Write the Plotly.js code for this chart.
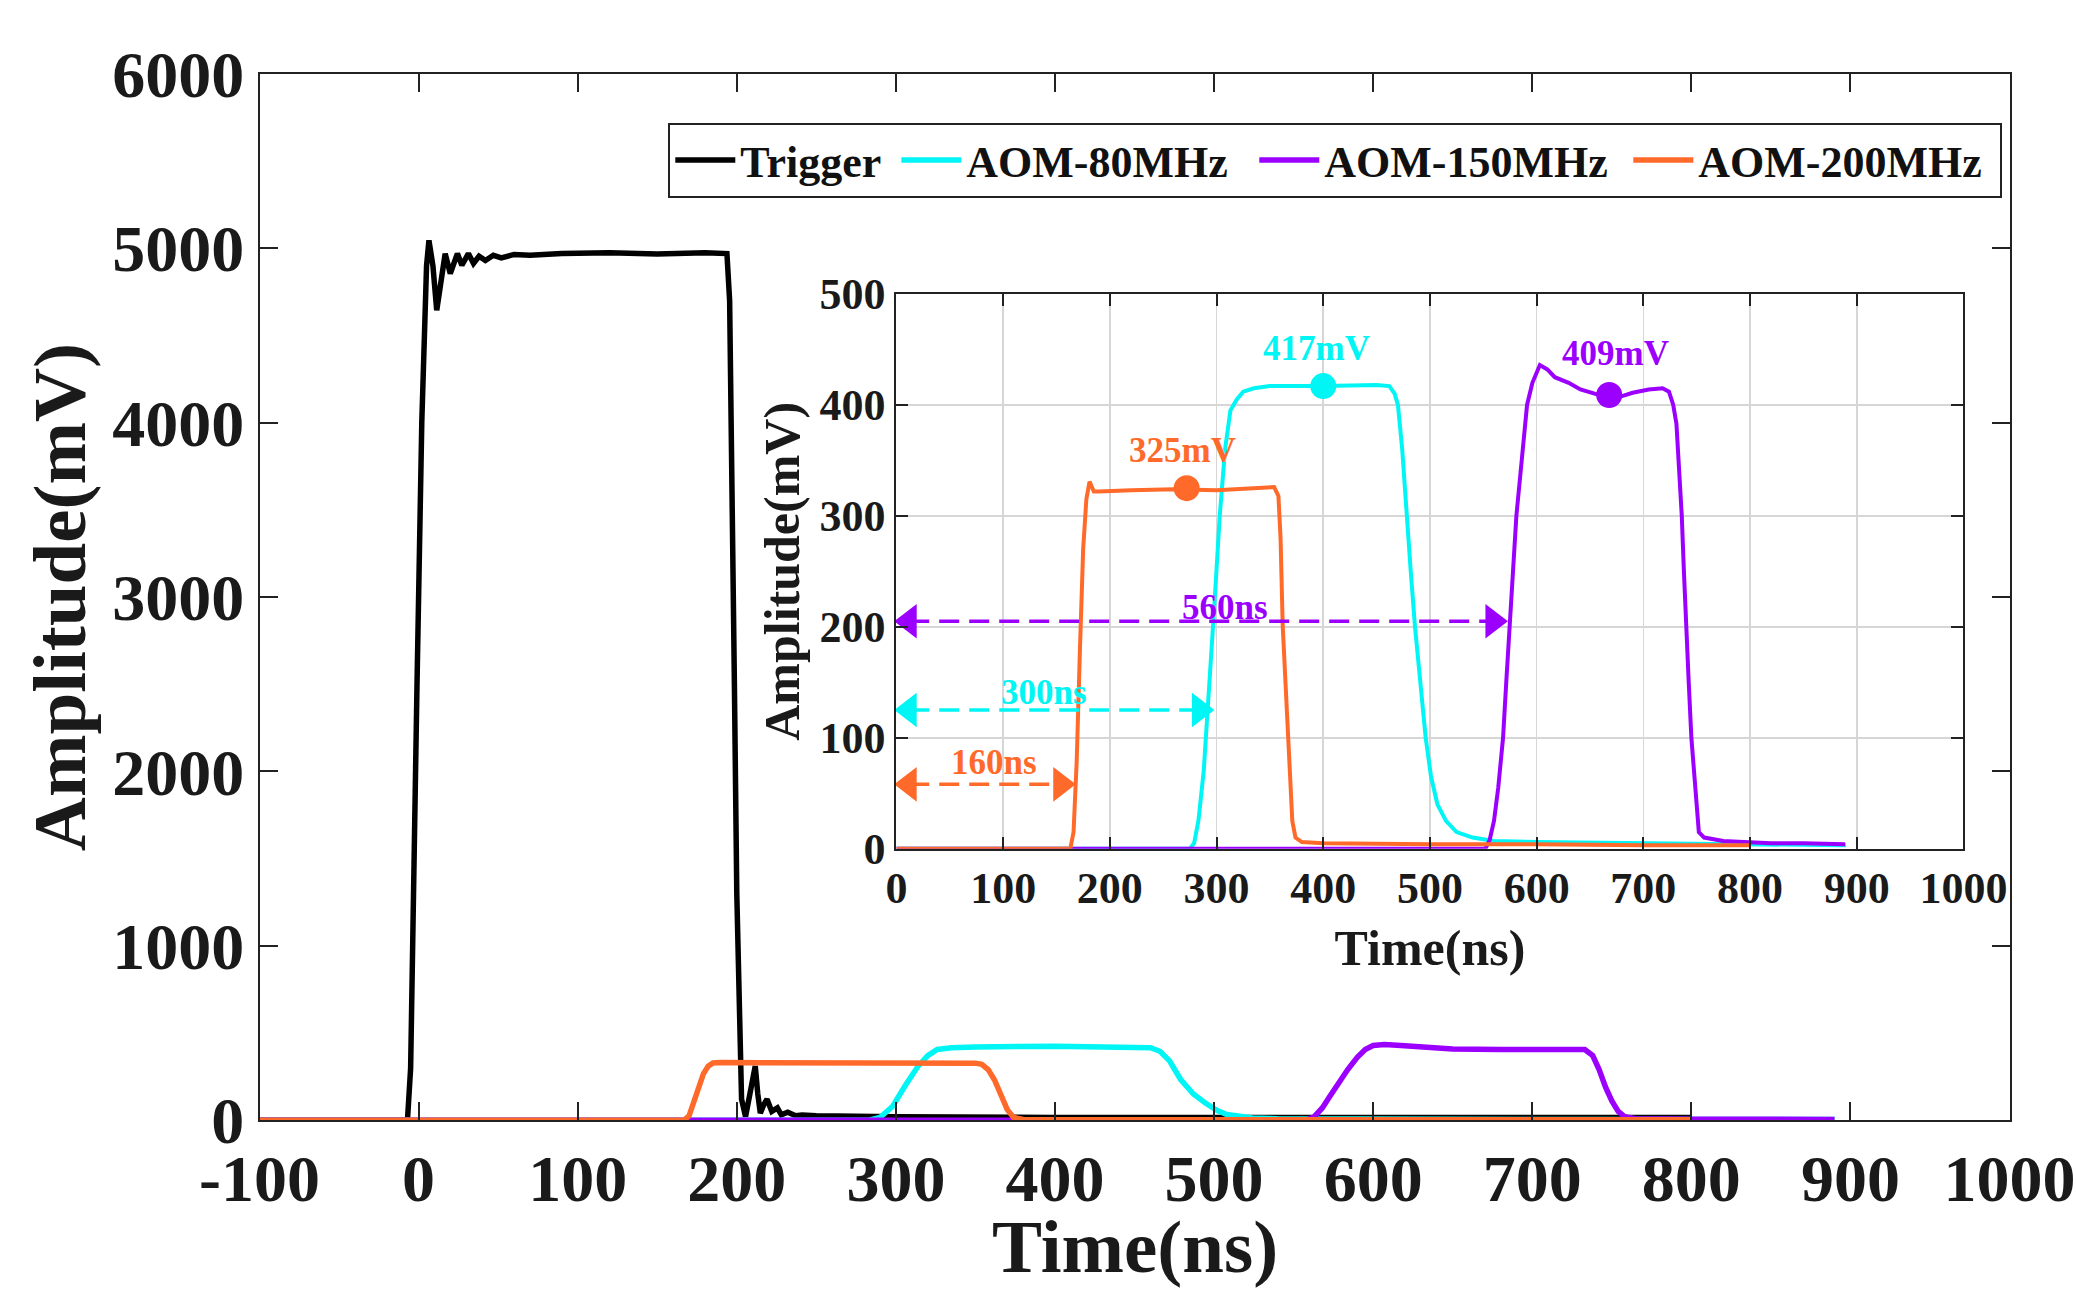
<!DOCTYPE html>
<html>
<head>
<meta charset="utf-8">
<script src="https://cdn.plot.ly/plotly-3.0.1.min.js"></script>
<style>html,body{margin:0;padding:0;background:#fff;}#chart{width:2076px;height:1289px;}</style>
</head>
<body>
<div id="chart"></div>
<script>
// ---------------- data ----------------
// Main plot: x in ns, y in mV
const triggerX = [-100,-60,-40,-20,-7,-5,-3.5,-1,2,5,6.5,9,11.4,14,16.7,19.9,24.4,27.2,31.3,34.5,38,42,47,52,60,70,90,120,150,180,193.8,195.5,197,198.5,200,201.5,203,205.5,208,211.6,213.2,214.8,217,219,222,225.5,228,232,237,241,250,270,300,400,500,600,700,800];
const triggerY = [0,0,0,0,0,300,1000,2500,4000,4900,5046,4900,4645,4800,4970,4856,4970,4903,4970,4914,4955,4930,4960,4945,4965,4960,4970,4975,4968,4975,4970,4700,3800,2500,1300,500,120,20,150,310,150,40,90,120,50,70,30,45,25,30,25,25,20,15,15,15,15,15];

const aom80X = [-100,283,290,298,306,314,320,326,335,350,400,450,460,466,472,479,487,495,502,508,516,524,540,600,700,800,890];
const aom80Y = [0,0,15,80,200,310,370,405,415,420,424,422,415,395,340,233,150,95,55,32,18,12,8,5,4,3,3];

const aom150X = [-100,558,563,568,573,578,584,590,595,600,607,615,630,650,680,700,720,733,738,742,746,750,754,758,765,780,800,890];
const aom150Y = [0,0,20,70,140,215,290,360,405,428,434,430,418,408,405,405,408,405,370,290,190,110,50,20,8,6,5,4];

const aom200X = [-100,167,170,173,176,179,182,185,190,250,300,350,354,358,362,366,370,374,380,400,500,600,700,800];
const aom200Y = [0,0,25,110,190,265,310,328,330,328,330,327,320,290,230,140,60,15,4,2,2,2,2,2];

// Inset plot
const inset80X = [0,275,279,283,288,293,298,303,308,313,319,325,335,350,400,450,462,467,470,474,478,482,486,491,496,501,507,515,525,540,560,600,700,800,890];
const inset80Y = [0,0,5,25,70,140,220,300,360,395,405,412,415,417,417,418,417,410,400,360,300,250,200,150,100,65,40,25,15,10,7,6,5,4,3];

const inset150X = [0,552,556,560,564,568.5,571.5,574.6,578,581,586,591,596,603,610,617,630,641,655,668,680,690,705,718,724,728,731,734,736,738,740,742.5,745,748,752,757,762,775,794,820,850,889];
const inset150Y = [0,0,8,25,55,100,150,200,250,300,350,400,420,436,432,425,420,414,410,406,408,411,414,415,412,400,383,340,300,250,200,150,100,60,15,10,9,7,6,5,5,4];

const inset200X = [0,163,166,169,172,175,178,181,185,190,220,260,300,340,354,358,360,362,365,368,371,374,380,400,500,600,700,800];
const inset200Y = [0,0,15,80,180,270,315,331,322,322,323,324,323,325,326,318,280,201,140,70,25,10,6,5,4,4,3,3];

// Marked levels in the inset
const markX = [272, 400, 668];
const markY = [325, 417, 409];
const markLabels = ['325mV', '417mV', '409mV'];

// Delay arrows in the inset (start/end in ns, level in mV)
const arrowStart = [0, 0, 0];
const arrowEnd = [166, 296, 571];
const arrowLevel = [58, 125, 205];
const arrowLabels = ['160ns', '300ns', '560ns'];

const seriesNames = ['Trigger', 'AOM-80MHz', 'AOM-150MHz', 'AOM-200MHz'];
const mainXTitle = 'Time(ns)';
const mainXTicks = [-100,0,100,200,300,400,500,600,700,800,900,1000];
const mainXTickText = ['-100','0','100','200','300','400','500','600','700','800','900','1000'];
const mainYTicks = [0,1000,2000,3000,4000,5000,6000];
const insetXTicks = [0,100,200,300,400,500,600,700,800,900,1000];
const insetYTicks = [0,100,200,300,400,500];

// ---------------- styling ----------------
const FONT = 'Liberation Serif, Times New Roman, serif';
const C_TRIG = '#000000', C80 = '#00F5F5', C150 = '#9B00FF', C200 = '#FF6A2A';
const labelColors = [C200, C80, C150];
const arrowColors = [C200, C80, C150];
const legendWidths = [151, 283, 299, 297];
const mainXDomain = [0.125, 0.968];

const traces = [];
const mainW = 5.5;
const mainSeries = [[triggerX, triggerY, C_TRIG], [aom80X, aom80Y, C80], [aom150X, aom150Y, C150], [aom200X, aom200Y, C200]];
mainSeries.forEach((s, i) => {
  traces.push({x: s[0], y: s[1], name: seriesNames[i], type: 'scatter', mode: 'lines',
    line: {color: s[2], width: mainW}, xaxis: 'x', yaxis: 'y', legendwidth: legendWidths[i]});
});

const inW = 4;
traces.push({x: inset80X, y: inset80Y, type: 'scatter', mode: 'lines', line: {color: C80, width: inW}, xaxis: 'x2', yaxis: 'y2', showlegend: false});
traces.push({x: inset150X, y: inset150Y, type: 'scatter', mode: 'lines', line: {color: C150, width: inW}, xaxis: 'x2', yaxis: 'y2', showlegend: false});
traces.push({x: inset200X, y: inset200Y, type: 'scatter', mode: 'lines', line: {color: C200, width: inW}, xaxis: 'x2', yaxis: 'y2', showlegend: false});

// level markers
traces.push({x: markX, y: markY, type: 'scatter', mode: 'markers', marker: {color: labelColors, size: 26}, xaxis: 'x2', yaxis: 'y2', showlegend: false});

// dashed arrows with triangle heads
const headOff = 12; // ns, half the arrow-head length
for (let i = 0; i < arrowStart.length; i++) {
  traces.push({x: [arrowStart[i] + headOff, arrowEnd[i] - headOff], y: [arrowLevel[i], arrowLevel[i]], type: 'scatter', mode: 'lines',
    line: {color: arrowColors[i], width: 3.5, dash: '20px,10px'}, xaxis: 'x2', yaxis: 'y2', showlegend: false});
  traces.push({x: [arrowStart[i] + headOff, arrowEnd[i] - headOff], y: [arrowLevel[i], arrowLevel[i]], type: 'scatter', mode: 'markers',
    marker: {symbol: ['triangle-left', 'triangle-right'], size: 30, color: arrowColors[i]}, cliponaxis: false,
    xaxis: 'x2', yaxis: 'y2', showlegend: false});
}

const annotations = [];
const labelPos = [[268, 359], [394, 451], [674, 446]];
for (let i = 0; i < markLabels.length; i++) {
  annotations.push({x: labelPos[i][0], y: labelPos[i][1], xref: 'x2', yref: 'y2', text: markLabels[i], showarrow: false,
    font: {family: FONT, size: 35, color: labelColors[i], weight: 'bold'}});
}
const arrowLabelPos = [[91, 78], [138, 141], [308, 217]];
for (let i = 0; i < arrowLabels.length; i++) {
  annotations.push({x: arrowLabelPos[i][0], y: arrowLabelPos[i][1], xref: 'x2', yref: 'y2', text: arrowLabels[i], showarrow: false,
    font: {family: FONT, size: 35, color: arrowColors[i], weight: 'bold'}});
}
// main x-axis title, placed as a paper annotation at the bottom edge
annotations.push({x: (mainXDomain[0] + mainXDomain[1]) / 2, y: 0, xref: 'paper', yref: 'paper', xanchor: 'center', yanchor: 'bottom',
  text: mainXTitle, showarrow: false, borderpad: 0, font: {family: FONT, size: 75, weight: 'bold', color: '#1a1a1a'}});

const AX = '#222222';
function axisBase(extra) {
  return Object.assign({
    ticks: 'inside', tickwidth: 2, tickcolor: AX, showline: true, linecolor: AX, linewidth: 2,
    mirror: 'ticks', zeroline: false, showgrid: false, automargin: false, fixedrange: true
  }, extra);
}

const layout = {
  width: 2076, height: 1289,
  paper_bgcolor: '#ffffff', plot_bgcolor: 'rgba(0,0,0,0)',
  margin: {l: 0, r: 0, t: 0, b: 0},
  font: {family: FONT, color: '#111'},
  showlegend: true,
  legend: {orientation: 'h', x: 0.9645, xanchor: 'right', y: 0.9046, yanchor: 'top',
    bgcolor: '#ffffff', bordercolor: '#222', borderwidth: 2,
    font: {family: FONT, size: 44, weight: 'bold', color: '#111'}, itemwidth: 60, tracegroupgap: 0},
  xaxis: axisBase({domain: mainXDomain, range: [-100, 1000], tickvals: mainXTicks, ticktext: mainXTickText, ticklen: 18, anchor: 'y',
    tickfont: {family: FONT, size: 66, weight: 'bold', color: '#1a1a1a'}}),
  yaxis: axisBase({domain: [0.131, 0.9426], range: [0, 6000], tickvals: mainYTicks, ticklen: 18, anchor: 'x',
    tickfont: {family: FONT, size: 66, weight: 'bold', color: '#1a1a1a'},
    title: {text: 'Amplitude(mV)', font: {family: FONT, size: 75, weight: 'bold', color: '#1a1a1a'}, standoff: 2}}),
  xaxis2: axisBase({domain: [0.4318, 0.9458], range: [0, 1000], tickvals: insetXTicks, ticklen: 12, anchor: 'y2',
    showgrid: true, gridcolor: '#d6d6d6', gridwidth: 1.5,
    tickfont: {family: FONT, size: 44, weight: 'bold', color: '#1a1a1a'},
    title: {text: 'Time(ns)', font: {family: FONT, size: 50, weight: 'bold', color: '#1a1a1a'}, standoff: 18}}),
  yaxis2: axisBase({domain: [0.3416, 0.7719], range: [0, 500], tickvals: insetYTicks, ticklen: 12, anchor: 'x2',
    showgrid: true, gridcolor: '#d6d6d6', gridwidth: 1.5,
    tickfont: {family: FONT, size: 44, weight: 'bold', color: '#1a1a1a'},
    title: {text: 'Amplitude(mV)', font: {family: FONT, size: 50, weight: 'bold', color: '#1a1a1a'}, standoff: 4}}),
  annotations: annotations
};

Plotly.newPlot('chart', traces, layout, {staticPlot: true, displayModeBar: false});
</script>
</body>
</html>
